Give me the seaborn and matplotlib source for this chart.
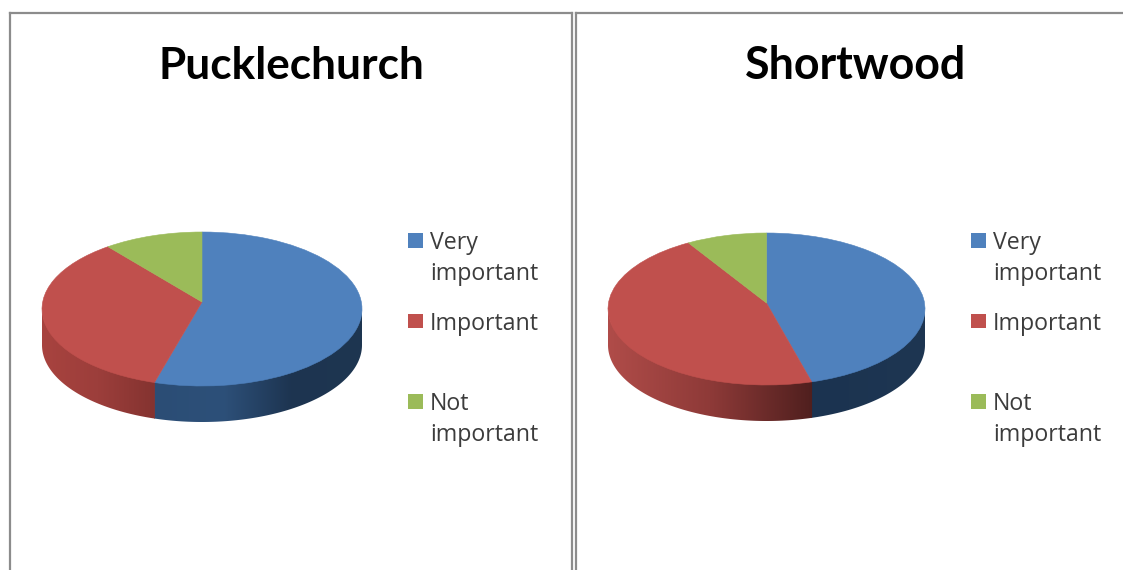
import numpy as np
import matplotlib
matplotlib.use("Agg")
import matplotlib.pyplot as plt
from matplotlib.patches import Polygon, Rectangle
import seaborn as sns

titles = ["Pucklechurch", "Shortwood"]
categories = ["Very\nimportant", "Important", "Not\nimportant"]
pucklechurch = [54.8, 35.2, 10]
shortwood = [45.4, 46.4, 8.2]

W, H = 1123, 570
sns.set_theme(style="white")
colors = ["#4f81bd", "#c0504d", "#9bbb59"]
LEGEND_FONT = "Open Sans"
TITLE_FONT = "Lato"

fig = plt.figure(figsize=(W / 100, H / 100), dpi=100, facecolor="white")


def rect(l, t, r, b):
    return [l / W, 1 - b / H, (r - l) / W, (b - t) / H]


def panel(l, r, t):
    ax = fig.add_axes(rect(l, t, r, H + 6), facecolor="white")
    ax.set_xticks([])
    ax.set_yticks([])
    for s in ax.spines.values():
        s.set_color("#8c8c8c")
        s.set_linewidth(1.6)
    return ax


def draw_pie(values, l, r, t, ry, depth, apex_shift, wall_ramps):
    ax = fig.add_axes(rect(l, t, r, t + 2 * ry + depth))
    ax.patch.set_alpha(0)
    wedges, _ = ax.pie(values, colors=colors, startangle=90, counterclock=False,
                       radius=1, wedgeprops=dict(linewidth=0))
    ax.set_aspect("auto")
    d = depth / ry
    # the apex of the slices sits above the centre of the ellipse (perspective)
    for w in wedges:
        v = w.get_path().vertices
        rad = np.minimum(np.hypot(v[:, 0], v[:, 1]), 1)
        v[:, 1] += (apex_shift / ry) * (1 - rad)
        w.set_zorder(3)
        w.set_edgecolor(w.get_facecolor())
        w.set_linewidth(0.4)
    # side wall
    fr = np.cumsum([0] + list(values)) / np.sum(values)
    for i, ramp in wall_ramps.items():
        a1 = 90 - 360 * fr[i]
        a0 = 90 - 360 * fr[i + 1]
        a0, a1 = a0 % 360, (a1 - 1e-9) % 360 + 1e-9
        lo, hi = max(a0, 180), min(a1 if a1 > a0 else a1 + 360, 360)
        th = np.radians(np.linspace(lo - 0.15, hi + 0.15, 160))
        x, y = np.cos(th), np.sin(th)
        pts = np.r_[np.c_[x, y + 0.02], np.c_[x, y - d][::-1]]
        poly = Polygon(pts, closed=True, transform=ax.transData, fc="none", ec="none")
        ax.add_patch(poly)
        cmap = sns.blend_palette(ramp, as_cmap=True)
        im = ax.imshow(np.linspace(0, 1, 256)[None, :], cmap=cmap, aspect="auto",
                       extent=(x.min(), x.max(), -1 - d, 1), zorder=2)
        im.set_clip_path(poly)
    ax.set_xlim(-1, 1)
    ax.set_ylim(-1 - d, 1)
    ax.set_aspect("auto")
    return ax


def legend(x_sw, x_tx):
    rows = [233, 313.5, 394]
    for lab, col, y in zip(categories, colors, rows):
        fig.add_artist(Rectangle((x_sw / W, 1 - (y + 14.5) / H), 14.5 / W, 14.5 / H,
                                 transform=fig.transFigure, fc=col, ec="none"))
        fig.text(x_tx / W, 1 - (y - 2) / H, lab, ha="left", va="top",
                 fontsize=16.7, family=LEGEND_FONT, color="#3c3c3c", linespacing=1.4)


panel(10, 572.3, 13)
panel(575.7, 1135, 13)

draw_pie(pucklechurch, 42, 362, 232, 77, 36, 7,
         {0: ["#2b4d75", "#2d5079", "#1d3450", "#1e3651"],
          1: ["#a8433f", "#9c3e3b", "#843330"]})
draw_pie(shortwood, 608, 925, 233, 76, 36, 6,
         {0: ["#1b3350", "#1e3652"],
          1: ["#b04c49", "#8e3a38", "#4f1f1e"]})

fig.text(291 / W, 1 - 66 / H, titles[0], ha="center", va="center", fontsize=31.8,
         fontweight="bold", family=TITLE_FONT, color="black")
fig.text(855.5 / W, 1 - 66 / H, titles[1], ha="center", va="center", fontsize=32.2,
         fontweight="bold", family=TITLE_FONT, color="black")

legend(408, 430)
legend(971, 993)

fig.savefig("out.png", dpi=100)
